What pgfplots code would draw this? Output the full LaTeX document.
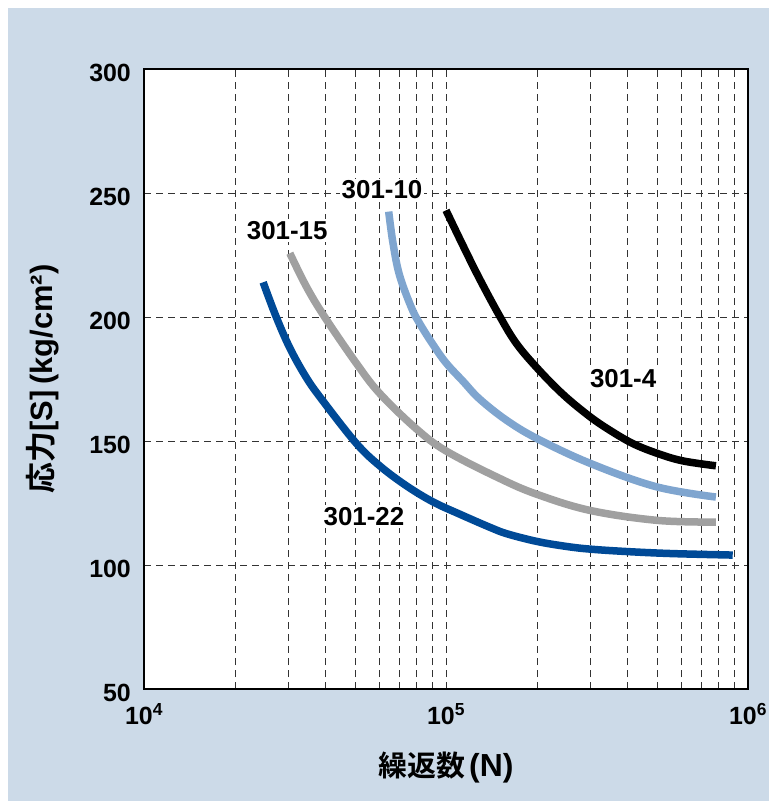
\documentclass[border=0pt]{standalone}
\usepackage{fontspec}
\setmainfont{Liberation Sans}
\newfontfamily\cjk{Noto Sans CJK JP}[BoldFont={Noto Sans CJK JP Bold}]
\usepackage{pgfplots}
\pgfplotsset{compat=1.18}
\definecolor{bgc}{HTML}{CCDAE8}
\definecolor{dblue}{HTML}{004A97}
\definecolor{lblue}{HTML}{7FA5CF}
\definecolor{gry}{HTML}{A0A0A0}
\begin{document}
\begin{tikzpicture}[x=1bp,y=1bp]
\fill[white] (-144,-112) rectangle (625,689);
\fill[bgc] (-136,-112) rectangle (625,681);
\begin{axis}[at={(0,0)}, anchor=south west, scale only axis,
  width=604bp, height=620bp,
  axis background/.style={fill=white},
  xmode=log, log basis x=10,
  xmin=1e4, xmax=1e6, ymin=50, ymax=300,
  ytick={50,100,150,200,250,300},
  xtick={1e4,1e5,1e6},
  minor xtick={2e4,3e4,4e4,5e4,6e4,7e4,8e4,9e4,2e5,3e5,4e5,5e5,6e5,7e5,8e5,9e5},
  xticklabels={10\textsuperscript{4},10\textsuperscript{5},10\textsuperscript{6}},
  /pgf/number format/assume math mode=true,
  major tick length=0pt, minor tick length=0pt,
  xmajorgrids=true, xminorgrids=true, ymajorgrids=true,
  major grid style={black!80, line width=0.8bp, dash pattern=on 7bp off 5bp},
  minor grid style={black!80, line width=0.8bp, dash pattern=on 7bp off 5bp},
  axis line style={black, line width=2.5bp},
  tick label style={font=\bfseries\fontsize{25}{25}\selectfont},
  yticklabel style={inner sep=0pt, anchor=east, xshift=-13bp, yshift=-4bp},
  xticklabel style={inner sep=0pt, anchor=north, yshift=-14bp},
  xlabel={{\cjk\bfseries 繰返数}\hspace{4bp}{\fontsize{32}{32}\selectfont(N)}},
  ylabel={{\cjk\bfseries 応力}[S]\hspace{6bp}(kg/cm²)},
  xlabel style={font=\bfseries\fontsize{29}{29}\selectfont, at={(axis description cs:0.5,-0.1274)}, anchor=center, inner sep=0pt},
  ylabel style={font=\bfseries\fontsize{31}{31}\selectfont, at={(axis description cs:-0.1672,0.5)}, anchor=center, inner sep=0pt},
  clip=false,
  curve/.style={line width=7.5bp, no markers, smooth, tension=0.6, line join=round},
]
% 301-22
\addplot[curve, dblue] coordinates {
(2.48e4,214) (2.73e4,200.5) (3.04e4,187.5) (3.45e4,175.5) (3.92e4,166) (5.05e4,149)
(6.03e4,140) (7.38e4,132) (9.04e4,125.5) (1.11e5,120.5) (1.41e5,115)
(1.6e5,112.5) (2e5,109.5) (2.5e5,107.5) (3e5,106.4) (4e5,105.4) (5.62e5,104.6) (8.9e5,104)};
% 301-15
\addplot[curve, gry] coordinates {
(3.04e4,225.7) (3.45e4,212.2) (3.96e4,200.1) (5.05e4,181.3) (6.03e4,169.2)
(7.96e4,155) (1e5,146) (1.5e5,135) (2e5,128.5) (3e5,122) (5e5,118) (7.83e5,117.3)};
% 301-10
\addplot[curve, lblue] coordinates {
(6.46e4,242.5) (6.67e4,230) (7.01e4,217) (7.67e4,204) (8.17e4,197.5)
(9.04e4,189) (1e5,181.5) (1.14e5,174) (1.29e5,167) (1.58e5,158.5)
(2e5,151) (3e5,141) (4.95e5,131.6) (7.83e5,127.4)};
% 301-4
\addplot[curve, black] coordinates {
(1.0e5,243) (1.136e5,229) (1.29e5,215.5) (1.503e5,200.5) (1.706e5,189.5)
(2e5,179.5) (2.43e5,169) (2.96e5,160.3) (3.47e5,154.5) (4.15e5,149)
(5.01e5,145) (6.07e5,142) (7.83e5,140)};
\begin{scope}[every node/.style={font=\bfseries\fontsize{26}{26}\selectfont, fill=white, inner sep=2bp}]
\node at (axis cs:6.14e4,251.3) {301-10};
\node at (axis cs:2.98e4,234.8) {301-15};
\node at (axis cs:3.86e5,175) {301-4};
\node at (axis cs:5.35e4,119.5) {301-22};
\end{scope}
\end{axis}
\end{tikzpicture}
\end{document}
